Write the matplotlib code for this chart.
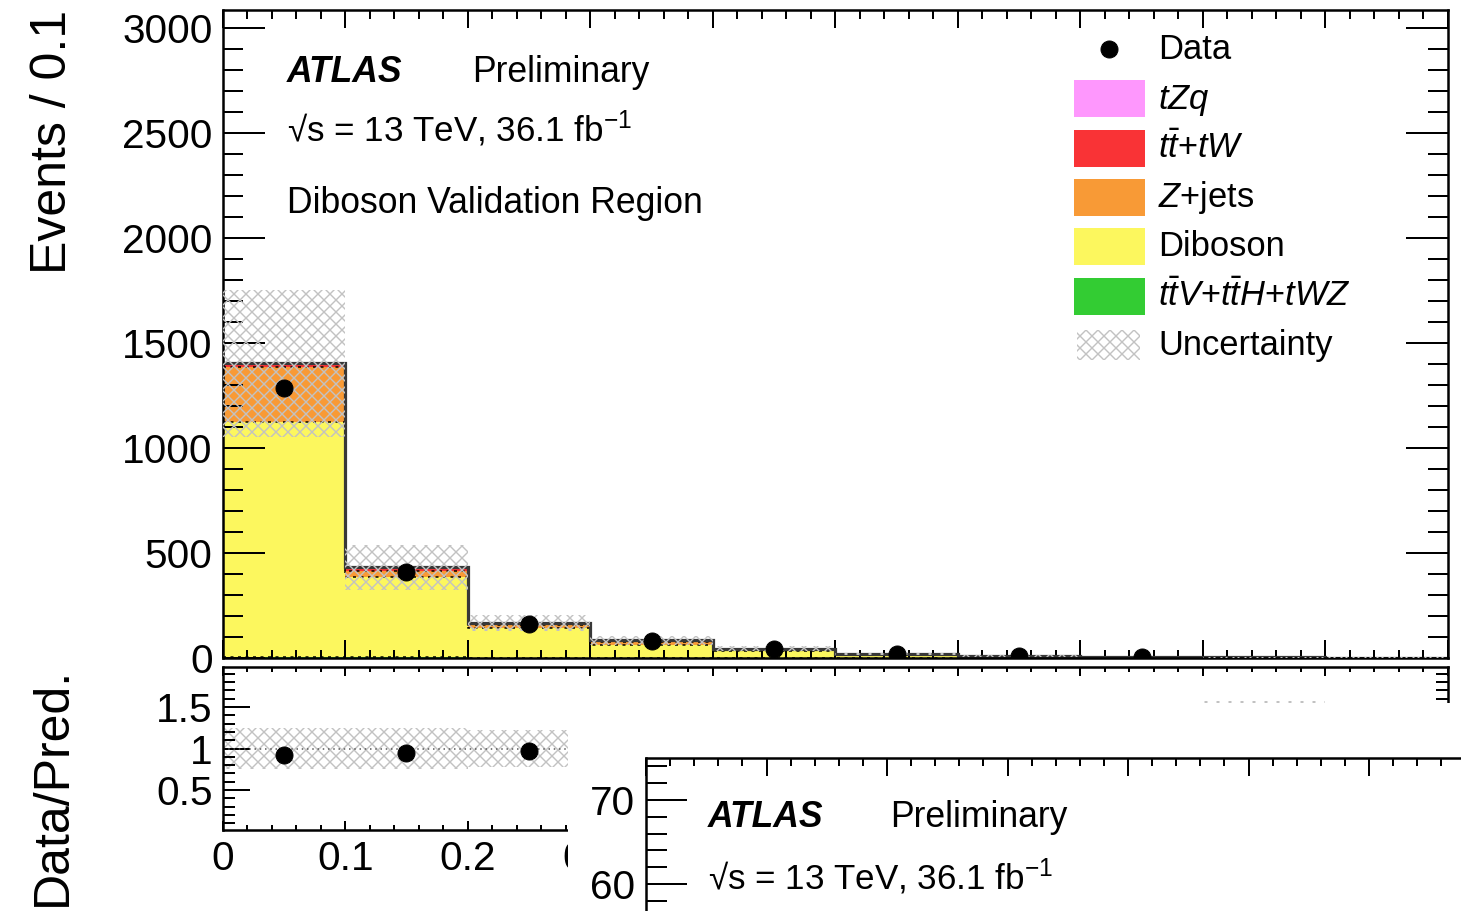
import numpy as np
import matplotlib
matplotlib.use("Agg")
import matplotlib.pyplot as plt
from matplotlib.patches import Rectangle
from matplotlib.lines import Line2D
from matplotlib.ticker import MultipleLocator, FixedLocator, FormatStrFormatter, FuncFormatter

plt.rcParams['font.family'] = ['Liberation Sans', 'DejaVu Sans']
plt.rcParams['mathtext.fontset'] = 'custom'
plt.rcParams['mathtext.rm'] = 'Liberation Sans'
plt.rcParams['mathtext.it'] = 'Liberation Sans:italic'
plt.rcParams['mathtext.bf'] = 'Liberation Sans:bold'
plt.rcParams['hatch.linewidth'] = 1.4

# binning (10 bins of 0.1)
edges = [0.0, 0.1, 0.2, 0.3, 0.4, 0.5, 0.6, 0.7, 0.8, 0.9, 1.0]

# stacked backgrounds, bottom to top
ttv      = [5, 3, 2, 1.5, 1, 0.6, 0.4, 0.2, 0.1, 0.1]
diboson  = [1120, 382, 140, 62, 33, 14, 7, 3.5, 2.1, 1.4]
zjets    = [262, 28, 14, 12, 6, 3, 1.5, 0.8, 0.5, 0.3]
ttbar_tw = [12, 14, 8, 6, 3.5, 1.6, 0.7, 0.3, 0.2, 0.1]
tzq      = [6, 5, 4, 2.5, 1.5, 0.8, 0.4, 0.2, 0.1, 0.1]

data = [1288, 410, 162, 81, 43, 19, 10, 5, 0, 0]
unc  = [350, 108, 38, 20, 11, 6, 4, 2, 1.7, 1]

colors = {
    'ttv': '#33cc33',
    'diboson': '#fcf75e',
    'zjets': '#f89a36',
    'ttbar_tw': '#f93336',
    'tzq': '#fe97fd',
}
hatch_col = '#c2c2c2'

W, H = 1461, 911


def fx(px):
    return px / W


def fy(py):
    return 1 - py / H


fig = plt.figure(figsize=(W / 72, H / 72), dpi=72)
x0, x1 = 222.7, 1448
ax = fig.add_axes([fx(x0), fy(658), (x1 - x0) / W, (658 - 10) / H])
rax = fig.add_axes([fx(x0), fy(830), (x1 - x0) / W, (830 - 667) / H])

edges_a = np.array(edges)
centers = 0.5 * (edges_a[:-1] + edges_a[1:])

# stack
bottom = np.zeros(len(data))
tops = []
for vals, key in [(ttv, 'ttv'), (diboson, 'diboson'), (zjets, 'zjets'),
                  (ttbar_tw, 'ttbar_tw'), (tzq, 'tzq')]:
    top = bottom + np.array(vals)
    ax.stairs(top, edges, baseline=bottom, fill=True, color=colors[key], lw=0, zorder=1)
    tops.append(top)
    bottom = top
total = bottom

for t in tops[:-1]:
    ax.stairs(t, edges, baseline=None, color='k', lw=1.5, ls=(0, (2, 3)), zorder=1.5)
ax.stairs(total, edges, baseline=None, color='#383838', lw=3.2, zorder=2)

unc_a = np.array(unc)
ax.stairs(total + unc_a, edges, baseline=total - unc_a, fill=True, facecolor='none',
          edgecolor=hatch_col, hatch='xx', lw=0, zorder=3)

data_a = np.array(data, dtype=float)
m = data_a > 0
ax.plot(centers[m], data_a[m], 'o', color='k', ms=17, zorder=5)

ax.set_xlim(0, 1)
ax.set_ylim(0, 3087)
ax.xaxis.set_major_locator(MultipleLocator(0.1))
ax.xaxis.set_minor_locator(MultipleLocator(0.02))
ax.yaxis.set_major_locator(MultipleLocator(500))
ax.yaxis.set_minor_locator(MultipleLocator(100))
ax.tick_params(which='both', direction='in', top=True, right=True, width=2,
               labelbottom=False)
ax.tick_params(axis='y', which='major', length=42, labelsize=40.5, pad=10)
ax.tick_params(axis='y', which='minor', length=20)
ax.tick_params(axis='x', which='major', length=18)
ax.tick_params(axis='x', which='minor', length=8.5)
for s in ax.spines.values():
    s.set_linewidth(2.5)

# ratio panel
ratio = data_a[m] / total[m]
rel = unc_a / total
rax.stairs(1 + rel, edges, baseline=1 - rel, fill=True, facecolor='none',
           edgecolor=hatch_col, hatch='xx', lw=0, zorder=1)
rax.axhline(1, color='#555555', ls=(0, (1, 2.5)), lw=1.5, zorder=2)
rax.plot(centers[m], ratio, 'o', color='k', ms=17, zorder=5)
rax.set_xlim(0, 1)
rax.set_ylim(0.02, 1.98)
rax.xaxis.set_major_locator(MultipleLocator(0.1))
rax.xaxis.set_minor_locator(MultipleLocator(0.02))
# labels right of 0.3 sit under the pasted plot
rax.xaxis.set_major_formatter(FuncFormatter(lambda v, p: f"{v:g}" if v < 0.35 else ""))
rax.yaxis.set_major_locator(FixedLocator([0.5, 1, 1.5]))
rax.yaxis.set_minor_locator(MultipleLocator(0.1))
rax.yaxis.set_major_formatter(FormatStrFormatter('%g'))
rax.tick_params(which='both', direction='in', top=True, right=True, width=2,
                labelsize=40.5, pad=10)
rax.tick_params(axis='y', which='major', length=27)
rax.tick_params(axis='y', which='minor', length=12)
rax.tick_params(axis='x', which='major', length=9)
rax.tick_params(axis='x', which='minor', length=5)
for s in rax.spines.values():
    s.set_linewidth(2.5)

fig.text(fx(53), fy(10), 'Events / 0.1', rotation=90, ha='center', va='top', fontsize=50)
fig.text(fx(53), fy(667), 'Data/Pred.', rotation=90, ha='center', va='top', fontsize=50)

# labels
lumi = '√s = 13 TeV, 36.1 fb$^{\\mathrm{-1}}$'
fig.text(fx(287), fy(82), 'ATLAS', fontsize=35.5, fontweight='bold', fontstyle='italic', va='baseline')
fig.text(fx(472), fy(82), 'Preliminary', fontsize=35.5, va='baseline')
fig.text(fx(287), fy(141), lumi, fontsize=35, va='baseline')
fig.text(fx(287), fy(213), 'Diboson Validation Region', fontsize=35.5, va='baseline')

# legend
leg_x, leg_w, leg_h = 1074, 71, 37
leg_tx = 1158
rows = [
    ('Data', None),
    ('$tZq$', colors['tzq']),
    ('$t\\bar{t}$+$tW$', colors['ttbar_tw']),
    ('$Z$+jets', colors['zjets']),
    ('Diboson', colors['diboson']),
    ('$t\\bar{t}V$+$t\\bar{t}H$+$tWZ$', colors['ttv']),
    ('Uncertainty', 'hatch'),
]
baselines = [59, 108.5, 158, 207, 256.5, 306, 355]
for (lab, col), bl in zip(rows, baselines):
    yc = bl - 10
    if col is None:
        fig.add_artist(Line2D([fx(1109)], [fy(yc)], marker='o', color='k', ms=17,
                              transform=fig.transFigure))
    elif col == 'hatch':
        fig.add_artist(Rectangle((fx(1077), fy(yc + 15)), 63 / W, 30 / H, facecolor='none',
                                 edgecolor=hatch_col, hatch='xx', lw=0,
                                 transform=fig.transFigure))
    else:
        fig.add_artist(Rectangle((fx(leg_x), fy(yc + leg_h / 2)), leg_w / W, leg_h / H,
                                 facecolor=col, edgecolor='none', lw=0,
                                 transform=fig.transFigure))
    fig.text(fx(leg_tx), fy(bl), lab, fontsize=34.5, va='baseline')

# pasted second plot covering the lower right
fig.add_artist(Rectangle((fx(568), 0), (W - 568) / W, (H - 703) / H, facecolor='white',
                         edgecolor='none', transform=fig.transFigure, zorder=5))
ax2 = fig.add_axes([fx(646), fy(758 + 630), 1205 / W, 630 / H])
ax2.set_zorder(6)
ax2.set_xlim(0, 1)
ax2.set_ylim(0, 75)
ax2.xaxis.set_major_locator(MultipleLocator(0.1))
ax2.xaxis.set_minor_locator(MultipleLocator(0.02))
ax2.yaxis.set_major_locator(MultipleLocator(10))
ax2.yaxis.set_minor_locator(MultipleLocator(2))
ax2.yaxis.set_major_formatter(FuncFormatter(lambda v, p: f"{v:g}" if v >= 60 else ""))
ax2.tick_params(which='both', direction='in', top=True, bottom=False, right=False,
                labelbottom=False, width=2, labelsize=40.5, pad=11)
ax2.tick_params(axis='y', which='major', length=41)
ax2.tick_params(axis='y', which='minor', length=21)
ax2.tick_params(axis='x', which='major', length=18)
ax2.tick_params(axis='x', which='minor', length=8)
for s in ax2.spines.values():
    s.set_linewidth(2.5)

fig.text(fx(708), fy(827), 'ATLAS', fontsize=35.5, fontweight='bold', fontstyle='italic',
         va='baseline', zorder=7)
fig.text(fx(890), fy(827), 'Preliminary', fontsize=35.5, va='baseline', zorder=7)
fig.text(fx(708), fy(889), lumi, fontsize=35, va='baseline', zorder=7)

fig.savefig('out.png', dpi=72)
